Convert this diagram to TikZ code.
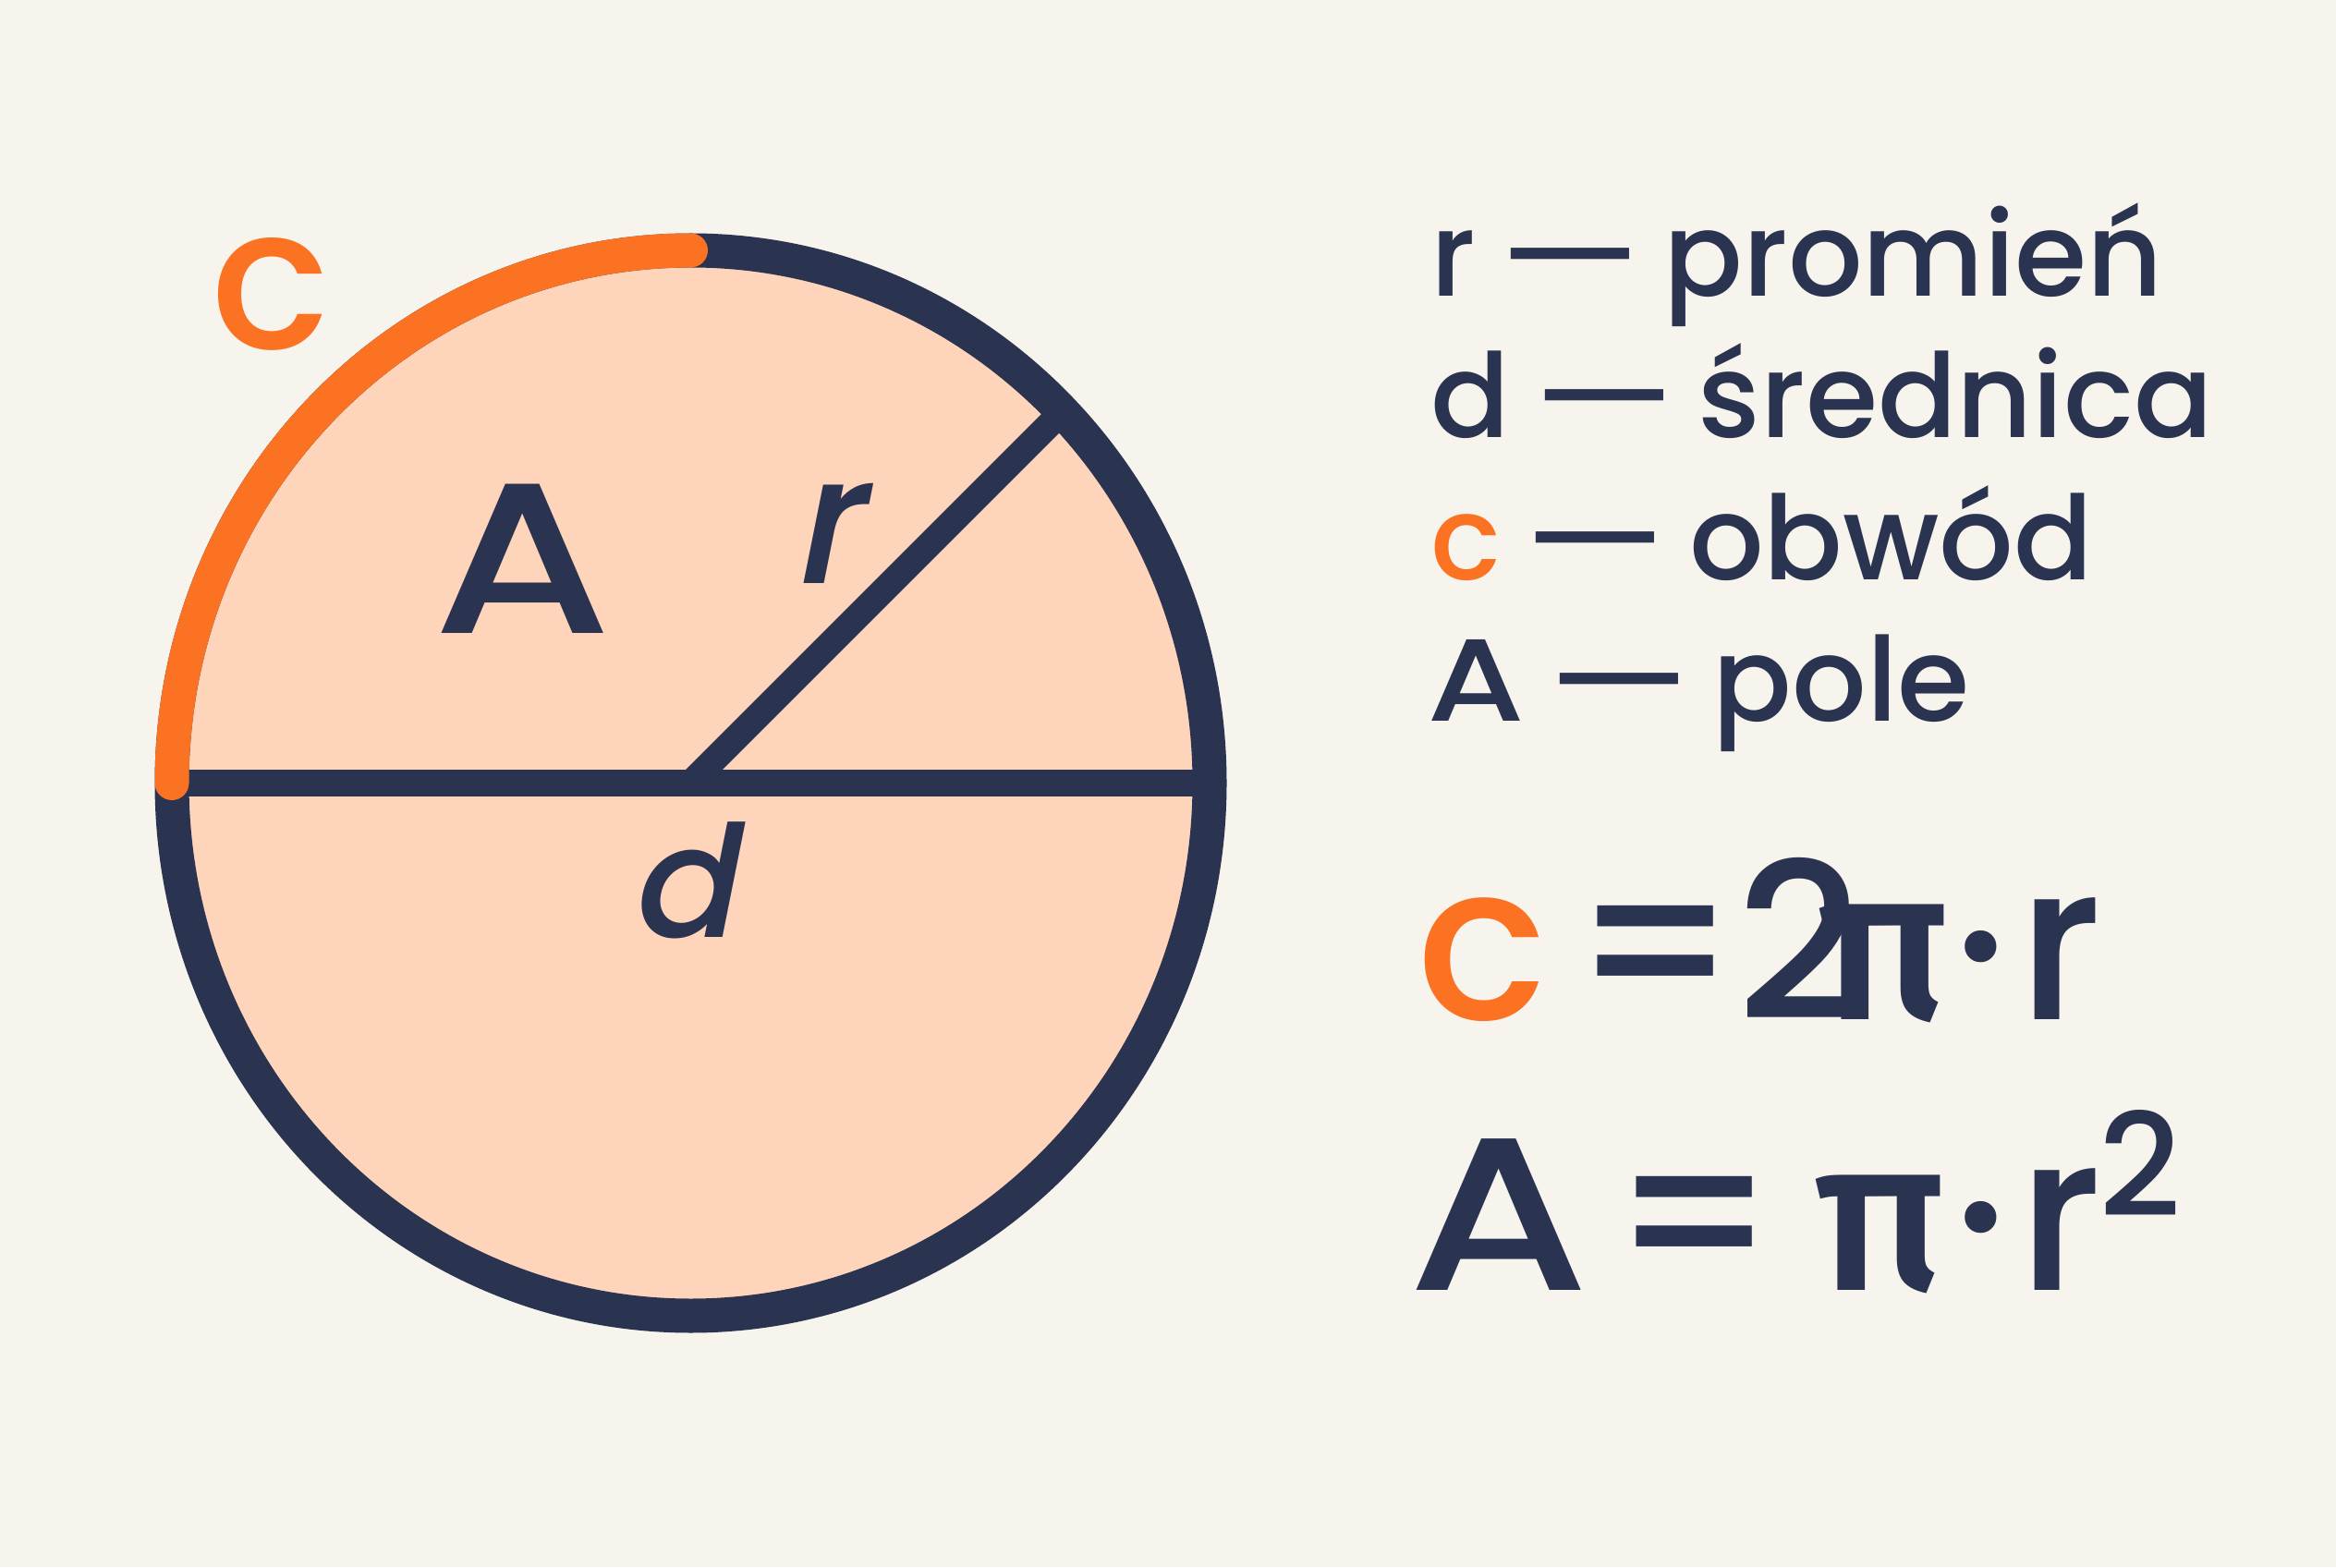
\documentclass[tikz,border=0pt]{standalone}
\usepackage{fontspec}
\setmainfont{Poppins}[UprightFont={* Medium}]
\newfontfamily\slantFont{Poppins Medium}[FakeSlant=0.2]
\newfontfamily\greekFont{Fira Sans Medium}
\usetikzlibrary{shapes.geometric}
\definecolor{paperColor}{HTML}{F7F4ED}
\definecolor{diskColor}{HTML}{FED5BB}
\definecolor{inkColor}{HTML}{2A3350}
\definecolor{arcColor}{HTML}{FC7223}
\newcommand{\wideA}{\scalebox{1.2}[1]{A}}
\newcommand{\longDash}{\hspace{0.18em}\scalebox{1.35}[1]{—}\hspace{0.18em}}

\begin{document}
\begin{tikzpicture}[
    legend/.style={anchor=base west, inner sep=0, text=inkColor, font=\fontsize{36}{36}\selectfont},
    formula/.style={anchor=base, inner sep=0, text=inkColor, font=\fontsize{67}{67}\selectfont}]
  \fill[paperColor] (0,0) rectangle (25.28,16.96);
  \useasboundingbox (0,0) rectangle (25.28,16.96);

  % the disk, its diameter and radius
  \node[ellipse, fill=diskColor, inner sep=0, outer sep=0, minimum width=11.23cm, minimum height=11.53cm] (disk) at (7.475,8.485) {};
  \draw[inkColor, line width=0.29cm] (disk.west) -- (disk.east);
  \draw[inkColor, line width=0.28cm] (disk.center) -- (disk.45);
  \draw[inkColor, line width=0.37cm] (disk.center) ellipse (5.615 and 5.765);
  \draw[arcColor, line width=0.37cm, line cap=round] (disk.west) arc[start angle=180, end angle=90, x radius=5.615, y radius=5.765];

  \node[text=arcColor, font=\fontsize{61}{61}\selectfont] (c) at (2.93,13.78) {c};
  \node[text=inkColor, font=\fontsize{66}{66}\selectfont] (area) at (5.66,10.91) {\wideA};
  \node[text=inkColor, font=\slantFont\fontsize{55}{55}\selectfont] (r) at (8.93,11.19) {r};
  \node[text=inkColor, font=\slantFont\fontsize{48}{48}\selectfont] (d) at (7.38,7.43) {d};

  % legend
  \node[legend] (legR) at (15.48,13.75) {r\longDash promień};
  \node[legend] (legD) at (15.48,12.22) {d\longDash średnica};
  \node[legend] (legC) at (15.48,10.69) {\textcolor{arcColor}{c}\longDash obwód};
  \node[legend] (legA) at (15.44,9.16) {\wideA\longDash pole};

  % formulas
  \node[formula, text=arcColor] (cf) at (16.04,5.93) {c};
  \node[formula] (eqC) at (17.92,5.93) {=};
  \node[formula] (two) at (19.47,5.93) {2};
  \node[formula, font=\greekFont\fontsize{67}{67}\selectfont] (piC) at (20.39,5.93) {π};
  \node[formula] (dotC) at (21.43,5.93) {·};
  \node[formula] (rC) at (22.30,5.93) {r};

  \node[formula] (af) at (16.22,3.00) {\wideA};
  \node[formula] (eqA) at (18.34,3.00) {=};
  \node[formula, font=\greekFont\fontsize{67}{67}\selectfont] (piA) at (20.35,3.00) {π};
  \node[formula] (dotA) at (21.43,3.00) {·};
  \node[formula] (rA) at (22.30,3.00) {r};
  \node[formula, font=\fontsize{44}{44}\selectfont] (sq) at (23.16,3.80) {2};
\end{tikzpicture}
\end{document}
